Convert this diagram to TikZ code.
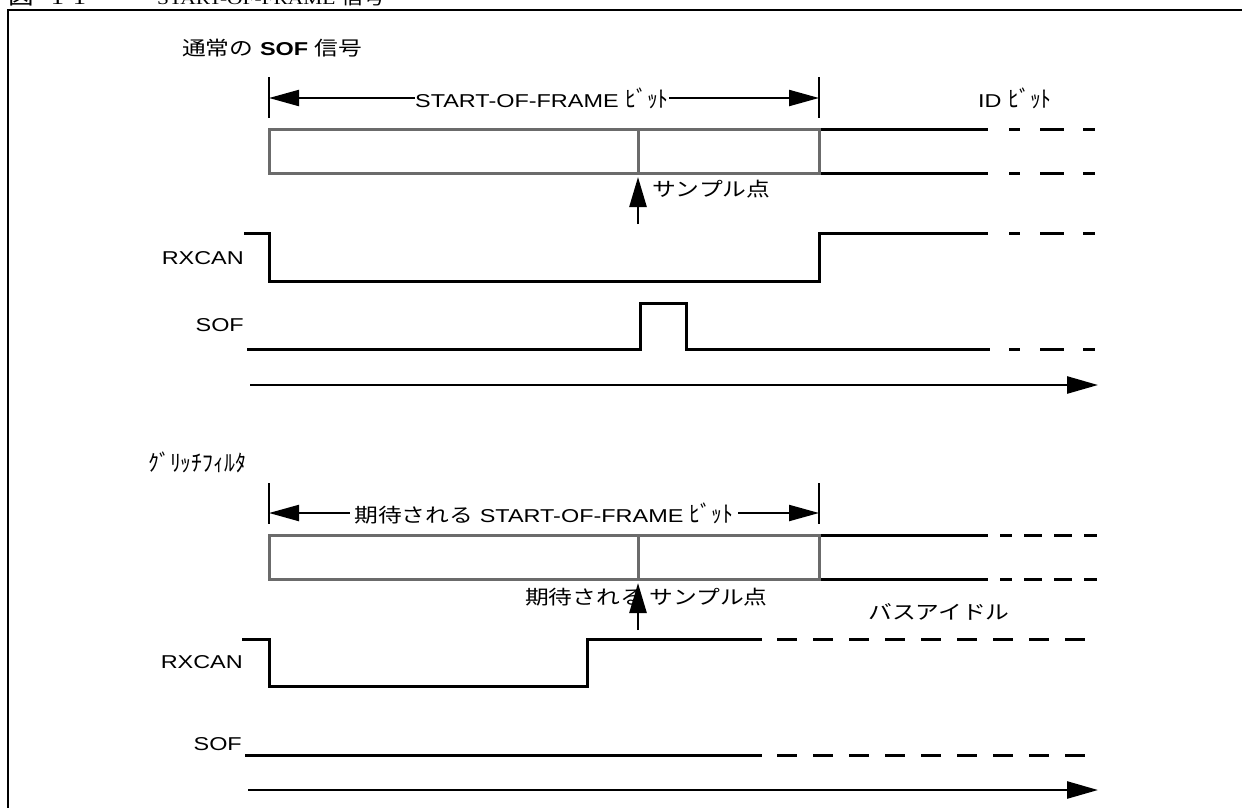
\documentclass[tikz,border=0pt]{standalone}
\usepackage{fontspec}
\setmainfont{Liberation Sans}[FakeStretch=1.26]
\newfontfamily\jpf{Noto Sans CJK JP}[FakeStretch=1.22]
\newfontfamily\jpnarrow{Noto Sans CJK JP}[FakeStretch=0.95]
\newfontfamily\serf{Liberation Serif}[FakeStretch=1.26]
\usetikzlibrary{arrows.meta}
\definecolor{boxgray}{HTML}{6B6B6B}
\newcommand\jpt{\jpf\fontsize{19.5}{23}\selectfont}
\newcommand\jph{\jpnarrow\fontsize{23}{26}\selectfont}
\begin{document}
\begin{tikzpicture}[x=1pt,y=-1pt,
  lat/.style={inner sep=0pt, font=\fontsize{18.6}{22}\selectfont},
  sig/.style={line width=3pt},
  gbox/.style={draw=boxgray, line width=3pt},
  tickl/.style={line width=2.2pt},
  dimarrow/.style={line width=2.2pt, {Triangle[length=30pt,width=16pt]}-{Triangle[length=30pt,width=16pt]}},
  uparr/.style={line width=2.6pt, -{Triangle[length=30pt,width=17pt]}},
  timeaxis/.style={line width=2.6pt, -{Triangle[length=31pt,width=17pt]}},
  topdash/.style={sig, dash pattern=on 11pt off 20pt on 24pt off 19pt on 12pt off 60pt},
  botdash/.style={sig, dash pattern=on 18pt off 12pt, dash phase=6pt},
  idledash/.style={sig, dash pattern=on 20pt off 16pt}
]
\useasboundingbox (0,0) rectangle (1242,807);

% cut-off figure title
\node[anchor=base west, inner sep=0pt, font=\fontsize{21}{24}\selectfont] (fignum) at (8,4) {{\jpf 図}\hspace{17pt}{\serf 1-1}};
\node[anchor=base west, inner sep=0pt, font=\fontsize{17}{20}\selectfont] (figtitle) at (157,4) {{\serf START-OF-FRAME} {\jpf\fontsize{18}{20}\selectfont 信号}};

% frame
\draw[line width=2.5pt] (8,812) -- (8,10) -- (1248,10);

%================ normal SOF =================
\node[lat, anchor=west] (t1) at (182,48) {{\jpt 通常の} \textbf{SOF} {\jpt 信号}};

\coordinate (a1l) at (269,98);
\coordinate (a1r) at (819,98);
\draw[tickl] (269,77) -- (269,118);
\draw[tickl] (819,77) -- (819,118);
\draw[dimarrow] (a1l) -- (a1r);
\node[lat, fill=white, inner xsep=0.5pt, inner ysep=2pt] (sofbit) at (542,98) {START-OF-FRAME {\jph ﾋﾞｯﾄ}};
\node[lat, anchor=west] (idbit) at (978,98) {ID {\jph ﾋﾞｯﾄ}};

\draw[sig] (820,129) -- (988,129);
\draw[sig] (820,173) -- (988,173);
\draw[topdash] (1009,129) -- (1095,129);
\draw[topdash] (1009,173) -- (1095,173);
\draw[gbox] (269,129) rectangle (819,173);
\draw[gbox] (638,129) -- (638,173);

\coordinate (sp1a) at (638,224);
\coordinate (sp1b) at (638,177);
\draw[uparr] (sp1a) -- (sp1b);
\node[lat, anchor=west] (sp1) at (652,189) {\jpt サンプル点};

\node[lat, anchor=east] (rx1) at (244,258) {RXCAN};
\draw[sig] (244,233) -- (269,233) -- (269,281) -- (819,281) -- (819,233) -- (988,233);
\draw[topdash] (1009,233) -- (1095,233);

\node[lat, anchor=east] (sof1) at (244,325) {SOF};
\draw[sig] (247,349) -- (640,349) -- (640,303) -- (686,303) -- (686,349) -- (990,349);
\draw[topdash] (1009,349) -- (1095,349);

\coordinate (ax1a) at (250,385);
\coordinate (ax1b) at (1098,385);
\draw[timeaxis] (ax1a) -- (ax1b);

%================ glitch filter =================
\node[lat, anchor=west] (gf) at (148,462) {\jph ｸﾞﾘｯﾁﾌｨﾙﾀ};

\coordinate (a2l) at (269,513);
\coordinate (a2r) at (819,513);
\draw[tickl] (269,483) -- (269,524);
\draw[tickl] (819,483) -- (819,524);
\draw[dimarrow] (a2l) -- (a2r);
\node[lat, fill=white, inner xsep=4pt, inner ysep=2pt] (expbit) at (544,513) {{\jpt 期待される} START-OF-FRAME {\jph ﾋﾞｯﾄ}};

\draw[sig] (820,535) -- (988,535);
\draw[sig] (820,579) -- (988,579);
\draw[botdash] (1000,535) -- (1097,535);
\draw[botdash] (1000,579) -- (1097,579);
\draw[gbox] (269,535) rectangle (819,579);
\draw[gbox] (638,535) -- (638,579);

\node[lat, anchor=west] (sp2) at (525,597) {\jpt 期待される サンプル点};
\coordinate (sp2a) at (638,630);
\coordinate (sp2b) at (638,583);
\draw[uparr] (sp2a) -- (sp2b);
\node[lat, anchor=west] (idle) at (868,612) {\jpt バスアイドル};

\node[lat, anchor=east] (rx2) at (243,662) {RXCAN};
\draw[sig] (242,639) -- (269,639) -- (269,686) -- (587,686) -- (587,639) -- (762,639);
\draw[idledash] (777,639) -- (1097,639);

\node[lat, anchor=east] (sof2) at (242,744) {SOF};
\draw[sig] (245,755) -- (762,755);
\draw[idledash] (777,755) -- (1100,755);

\coordinate (ax2a) at (248,790);
\coordinate (ax2b) at (1098,790);
\draw[timeaxis] (ax2a) -- (ax2b);
\end{tikzpicture}
\end{document}
